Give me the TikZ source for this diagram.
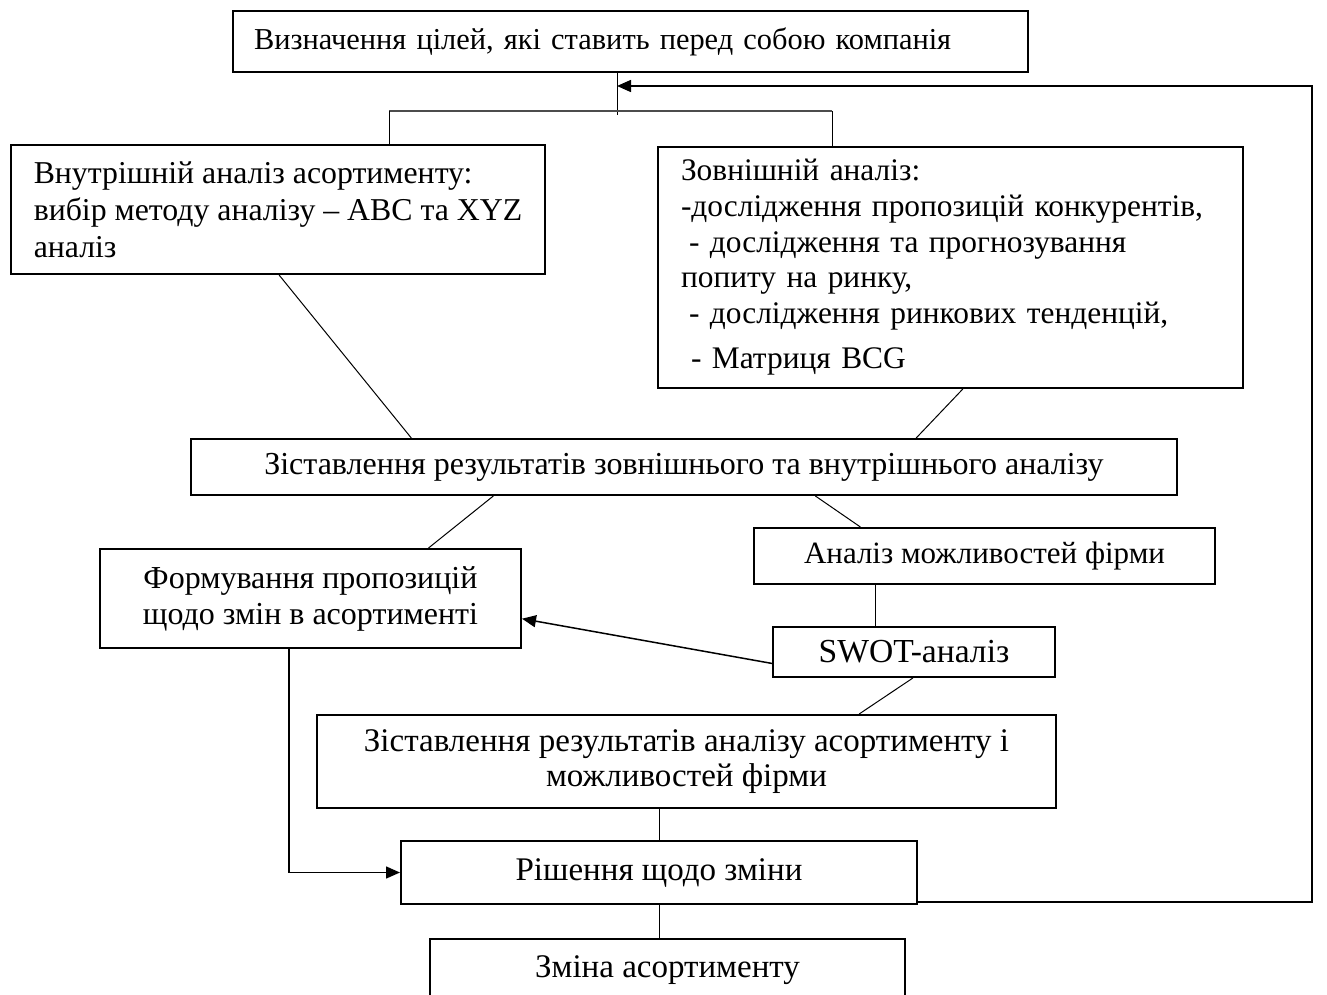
\documentclass[tikz,border=0pt]{standalone}
\usepackage{fontspec}
\setmainfont{Liberation Serif}
\usetikzlibrary{arrows.meta, calc}

\begin{document}
\begin{tikzpicture}[x=0.5pt, y=-0.5pt,
    box/.style={draw, line width=1pt, anchor=north west, inner ysep=0pt, font=\fontsize{16}{18}\selectfont},
    link/.style={line width=0.5pt},
    arrow/.style={line width=0.75pt, -{Triangle[length=7pt, width=6pt]}}]
    \useasboundingbox (0,0) rectangle (1327,995);
    \clip (0,0) rectangle (1327,995);
    % Boxes
    \node[box, minimum height=30.5pt, inner xsep=10.5pt, text width=376.5pt, align=left, font=\fontsize{15.2}{18}\selectfont] (goal) at (232,10) {Визначення цілей, які ставить перед собою компанія};
    \node[box, minimum height=64.5pt, minimum width=267pt, inner xsep=0pt, align=left, font=\fontsize{15.9}{18.5}\selectfont] (inner) at (10,144) {Внутрішній аналіз асортименту:\\вибір методу аналізу -- ABC та XYZ\\аналіз};
    \node[box, minimum height=120.5pt, inner xsep=11.5pt, text width=269.5pt, align=left, font=\fontsize{15.7}{17.8}\selectfont] (outer) at (657,146) {Зовнішній аналіз:\\-дослідження пропозицій конкурентів,\\\hspace*{4pt}- дослідження та прогнозування\\попиту на ринку,\\\hspace*{4pt}- дослідження ринкових тенденцій,\\[5pt]\hspace*{5pt}- Матриця BCG};
    \node[box, minimum height=28pt, minimum width=493pt] (cmp) at (190,438) {Зіставлення результатів зовнішнього та внутрішнього аналізу};
    \node[box, minimum height=49.5pt, minimum width=210.5pt, align=center] (form) at (99,548) {Формування пропозицій\\щодо змін в асортименті};
    \node[box, minimum height=28pt, minimum width=230.5pt, font=\fontsize{15.5}{18}\selectfont] (ana) at (753,527) {Аналіз можливостей фірми};
    \node[box, minimum height=25pt, minimum width=141pt, font=\fontsize{16.8}{18}\selectfont] (swot) at (772,626) {SWOT-аналіз};
    \node[box, minimum height=46.5pt, minimum width=369.5pt, align=center, font=\fontsize{16.5}{17.5}\selectfont] (cmp2) at (316,714) {Зіставлення результатів аналізу асортименту і\\можливостей фірми};
    \node[box, minimum height=31.5pt, minimum width=258pt, font=\fontsize{16.5}{18}\selectfont] (rish) at (400,840) {Рішення щодо зміни};
    \node[box, minimum height=31pt, minimum width=237.5pt, font=\fontsize{16.5}{18}\selectfont] (change) at (429,938) {Зміна асортименту};
    % Links from the goal
    \coordinate (hub) at (617,111);
    \coordinate (busL) at (389,111);
    \coordinate (busR) at (832,111);
    \coordinate (back) at (617,86);
    \draw[link] (goal.south -| hub) -- ([yshift=-2pt]hub);
    \draw[line width=1pt, black!70] (busL) -- (busR);
    \draw[link] (busL) -- (busL |- inner.north);
    \draw[link] (busR) -- (busR |- outer.north);
    % Slanted links
    \draw[link] ($(inner.south west)!0.502!(inner.south east)$) -- ($(cmp.north west)!0.224!(cmp.north east)$);
    \draw[link] ($(outer.south west)!0.521!(outer.south east)$) -- ($(cmp.north west)!0.735!(cmp.north east)$);
    \draw[link] ($(cmp.south west)!0.307!(cmp.south east)$) -- ($(form.north west)!0.779!(form.north east)$);
    \draw[link] ($(cmp.south west)!0.633!(cmp.south east)$) -- ($(ana.north west)!0.232!(ana.north east)$);
    \draw[link] ($(swot.south west)!0.496!(swot.south east)$) -- ($(cmp2.north west)!0.733!(cmp2.north east)$);
    % Straight links
    \coordinate (a1) at ($(ana.south west)!0.265!(ana.south east)$);
    \draw[link] (a1) -- (a1 |- swot.north);
    \draw[link] (rish.north) -- (rish.north |- cmp2.south);
    \draw[link] (rish.south) -- (rish.south |- change.north);
    % Arrows
    \draw[arrow] ($(swot.north west)!0.72!(swot.south west)$) -- ($(form.north east)!0.7!(form.south east)$);
    \draw[arrow] ($(form.south west)!0.449!(form.south east)$) |- (rish.west);
    \draw[arrow] ([yshift=1.5pt]rish.south east) -- ++(394,0) |- (back);
\end{tikzpicture}
\end{document}
